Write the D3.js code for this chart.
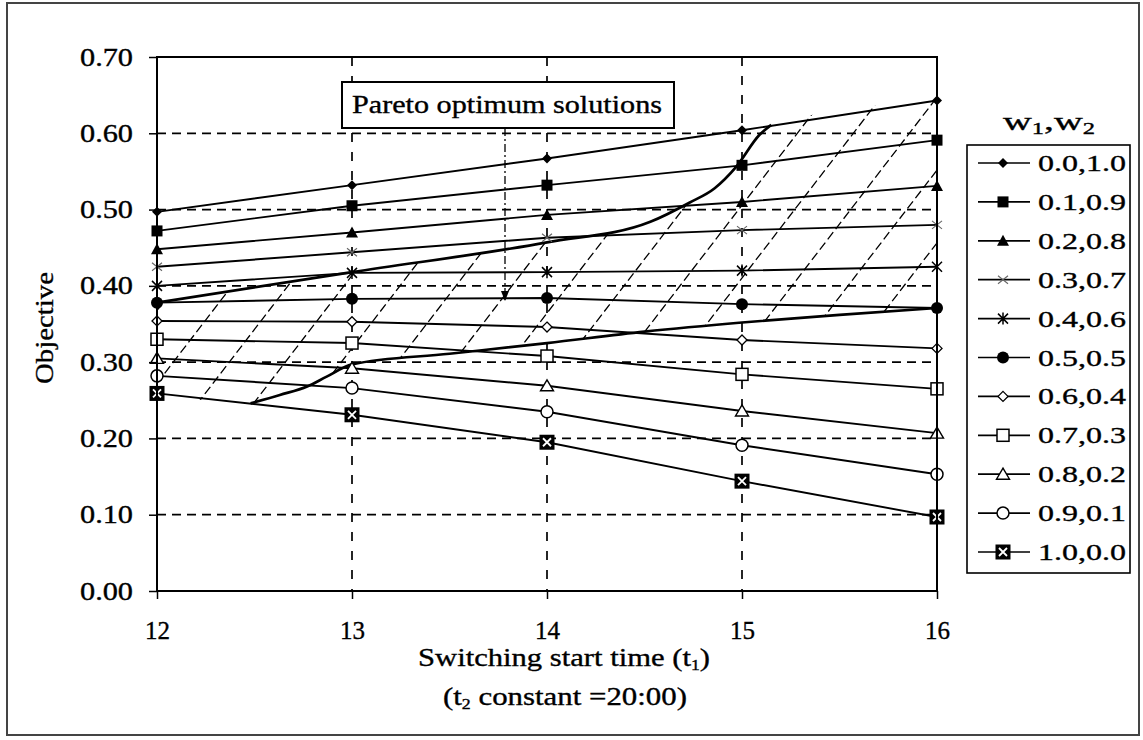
<!DOCTYPE html>
<html>
<head>
<meta charset="utf-8">
<script src="https://cdn.jsdelivr.net/npm/d3@7"></script>
<style>
  body { margin: 0; background: #fff; }
  svg text { font-family: "Liberation Serif", "Times New Roman", serif; fill: #000; stroke: #000; stroke-width: 0.35; }
</style>
</head>
<body>
<svg id="chart" width="1143" height="740"></svg>
<script>
// ---- data ----
const startTimes = [12, 13, 14, 15, 16];
const weightLabels = ["0.0,1.0", "0.1,0.9", "0.2,0.8", "0.3,0.7", "0.4,0.6", "0.5,0.5",
                      "0.6,0.4", "0.7,0.3", "0.8,0.2", "0.9,0.1", "1.0,0.0"];
const objectiveValues = [
  [0.497, 0.532, 0.567, 0.604, 0.643],
  [0.472, 0.505, 0.532, 0.558, 0.591],
  [0.448, 0.470, 0.493, 0.510, 0.531],
  [0.425, 0.444, 0.463, 0.473, 0.480],
  [0.400, 0.417, 0.418, 0.420, 0.425],
  [0.378, 0.383, 0.384, 0.376, 0.371],
  [0.354, 0.353, 0.346, 0.329, 0.318],
  [0.330, 0.325, 0.308, 0.284, 0.265],
  [0.305, 0.292, 0.269, 0.236, 0.207],
  [0.282, 0.266, 0.235, 0.191, 0.153],
  [0.259, 0.231, 0.195, 0.144, 0.097]
];
const markerTypes = ["diamondFill", "squareFill", "triFill", "dash", "star", "circleFill",
                     "diamondOpen", "squareOpen", "triOpen", "circleOpen", "squareX"];
// Pareto region boundaries [t1, objective]
const paretoUpper = [[12, 0.378], [13, 0.418], [14, 0.457], [14.53, 0.484], [14.73, 0.509],
                     [14.86, 0.528], [14.97, 0.556], [15.09, 0.598], [15.15, 0.611], [16, 0.643]];
const paretoLower = [[12, 0.259], [12.48, 0.246], [12.63, 0.257], [12.77, 0.268], [12.87, 0.281],
                     [13.0, 0.297], [13.5, 0.311], [14.0, 0.325], [14.5, 0.340], [15.0, 0.352],
                     [15.5, 0.362], [16, 0.371]];
const yTicks = [0, 0.1, 0.2, 0.3, 0.4, 0.5, 0.6, 0.7];

const svg = d3.select("#chart");
const x = d3.scaleLinear().domain([12, 16]).range([157, 937]);
const y = d3.scaleLinear().domain([0, 0.7]).range([591, 57]);

// outer frame
svg.append("rect").attr("x", 7).attr("y", 3).attr("width", 1132).attr("height", 732)
  .attr("fill", "#fff").attr("stroke", "#444").attr("stroke-width", 2);

// gridlines
svg.append("g").selectAll("line").data(yTicks.slice(1, -1)).join("line")
  .attr("x1", x(12)).attr("x2", x(16)).attr("y1", d => y(d)).attr("y2", d => y(d))
  .attr("stroke", "#000").attr("stroke-width", 1.7).attr("stroke-dasharray", "9,6");
svg.append("g").selectAll("line").data(startTimes.slice(1, -1)).join("line")
  .attr("x1", d => x(d)).attr("x2", d => x(d)).attr("y1", y(0.7)).attr("y2", y(0))
  .attr("stroke", "#000").attr("stroke-width", 1.7).attr("stroke-dasharray", "9,10");

// pareto hatched region
const bLine = d3.line().x(d => x(d[0])).y(d => y(d[1])).curve(d3.curveMonotoneX);
const regionPath = bLine(paretoUpper) + "L" + x(16) + "," + y(0.371) +
  bLine(paretoLower.slice().reverse()).replace(/^M/, "L") + "Z";
svg.append("clipPath").attr("id", "paretoClip").append("path").attr("d", regionPath);
const slope = 1.3, hatchStep = 56;
const hatchLines = d3.range(-6, 20).map(k => 201.7 + k * hatchStep);
svg.append("g").attr("clip-path", "url(#paretoClip)")
  .selectAll("line").data(hatchLines).join("line")
  .attr("x1", d => d - (600 - 398) / slope).attr("y1", 600)
  .attr("x2", d => d + (398 - 50) / slope).attr("y2", 50)
  .attr("stroke", "#000").attr("stroke-width", 1.3).attr("stroke-dasharray", "9,4");

// series lines
const sLine = d3.line().x((d, i) => x(startTimes[i])).y(d => y(d));
svg.append("g").selectAll("path").data(objectiveValues).join("path")
  .attr("d", d => sLine(d)).attr("fill", "none").attr("stroke", "#000").attr("stroke-width", 1.9);

// pareto boundaries
svg.append("path").attr("d", bLine(paretoUpper.slice(0, -1))).attr("fill", "none")
  .attr("stroke", "#000").attr("stroke-width", 2.7);
svg.append("path").attr("d", bLine(paretoLower.slice(1))).attr("fill", "none")
  .attr("stroke", "#000").attr("stroke-width", 2.7);

// markers
function drawMarker(g, type, cx, cy) {
  const s = g.append("g").attr("transform", `translate(${cx},${cy})`);
  switch (type) {
    case "diamondFill":
      s.append("path").attr("d", "M0,-5L5,0L0,5L-5,0Z").attr("fill", "#000"); break;
    case "squareFill":
      s.append("rect").attr("x", -5.5).attr("y", -5.5).attr("width", 11).attr("height", 11).attr("fill", "#000"); break;
    case "triFill":
      s.append("path").attr("d", "M0,-6L6,5L-6,5Z").attr("fill", "#000"); break;
    case "dash":
      s.append("path").attr("d", "M-5,-4L5,4M-5,4L5,-4").attr("stroke", "#666").attr("stroke-width", 1.1); break;
    case "star":
      s.append("path").attr("d", "M-5,-5L5,5M-5,5L5,-5M0,-6L0,6").attr("stroke", "#000").attr("stroke-width", 1.5); break;
    case "circleFill":
      s.append("circle").attr("r", 6).attr("fill", "#000"); break;
    case "diamondOpen":
      s.append("path").attr("d", "M0,-5L5,0L0,5L-5,0Z").attr("fill", "#fff").attr("stroke", "#000").attr("stroke-width", 1.3); break;
    case "squareOpen":
      s.append("rect").attr("x", -6).attr("y", -6).attr("width", 12).attr("height", 12)
        .attr("fill", "#fff").attr("stroke", "#000").attr("stroke-width", 1.5); break;
    case "triOpen":
      s.append("path").attr("d", "M0,-6L6.5,5L-6.5,5Z").attr("fill", "#fff").attr("stroke", "#000").attr("stroke-width", 1.4); break;
    case "circleOpen":
      s.append("circle").attr("r", 6).attr("fill", "#fff").attr("stroke", "#000").attr("stroke-width", 1.5); break;
    case "squareX":
      s.append("rect").attr("x", -7.5).attr("y", -7.5).attr("width", 15).attr("height", 15).attr("fill", "#000");
      s.append("path").attr("d", "M-4,-4L4,4M-4,4L4,-4").attr("stroke", "#fff").attr("stroke-width", 1.8); break;
  }
}
const markerG = svg.append("g");
objectiveValues.forEach((vals, si) => {
  vals.forEach((v, i) => drawMarker(markerG, markerTypes[si], x(startTimes[i]), y(v)));
});

// annotation box + arrow
svg.append("defs").append("marker").attr("id", "arrowHead")
  .attr("viewBox", "0 0 10 10").attr("refX", 9).attr("refY", 5)
  .attr("markerWidth", 8).attr("markerHeight", 8).attr("orient", "auto")
  .append("path").attr("d", "M0,1L10,5L0,9Z").attr("fill", "#000");
svg.append("line").attr("x1", 505).attr("y1", 128).attr("x2", 505).attr("y2", 300)
  .attr("stroke", "#000").attr("stroke-width", 1.3).attr("stroke-dasharray", "8,3,2,3")
  .attr("marker-end", "url(#arrowHead)");
svg.append("rect").attr("x", 342).attr("y", 82).attr("width", 332).attr("height", 46)
  .attr("fill", "#fff").attr("stroke", "#000").attr("stroke-width", 2);
svg.append("text").attr("x", 352).attr("y", 113).attr("font-size", 25)
  .attr("textLength", 310).attr("lengthAdjust", "spacingAndGlyphs").text("Pareto optimum solutions");

// plot frame
svg.append("rect").attr("x", x(12)).attr("y", y(0.7)).attr("width", x(16) - x(12))
  .attr("height", y(0) - y(0.7)).attr("fill", "none").attr("stroke", "#000").attr("stroke-width", 2);

// axes
const yAxis = svg.append("g").attr("transform", `translate(${x(12)},0)`)
  .call(d3.axisLeft(y).tickValues(yTicks).tickFormat(d3.format(".2f")).tickSize(8).tickPadding(16));
const xAxis = svg.append("g").attr("transform", `translate(0,${y(0)})`)
  .call(d3.axisBottom(x).tickValues(startTimes).tickFormat(d3.format("d")).tickSize(8).tickPadding(22));
[yAxis, xAxis].forEach(a => {
  a.select(".domain").remove();
  a.selectAll(".tick line").attr("stroke", "#000").attr("stroke-width", 1.5);
  a.selectAll(".tick text").attr("font-family", "Liberation Serif").attr("font-size", 25)
    .attr("fill", "#000");
});
yAxis.selectAll(".tick text").attr("textLength", 53).attr("lengthAdjust", "spacingAndGlyphs");

// axis titles
svg.append("text").attr("transform", "translate(53,328) rotate(-90)").attr("text-anchor", "middle")
  .attr("font-size", 26).attr("textLength", 112).attr("lengthAdjust", "spacingAndGlyphs").text("Objective");
const xt = svg.append("text").attr("x", 418).attr("y", 666).attr("font-size", 26)
  .attr("textLength", 292).attr("lengthAdjust", "spacingAndGlyphs");
xt.append("tspan").text("Switching start time (t");
xt.append("tspan").attr("font-size", 15).attr("dy", 4).text("1");
xt.append("tspan").attr("dy", -4).text(")");
const xt2 = svg.append("text").attr("x", 443).attr("y", 705).attr("font-size", 26)
  .attr("textLength", 244).attr("lengthAdjust", "spacingAndGlyphs");
xt2.append("tspan").text("(t");
xt2.append("tspan").attr("font-size", 15).attr("dy", 4).text("2");
xt2.append("tspan").attr("dy", -4).text(" constant =20:00)");

// legend
const lt = svg.append("text").attr("x", 1003).attr("y", 130).attr("font-size", 26)
  .attr("textLength", 92).attr("lengthAdjust", "spacingAndGlyphs");
lt.append("tspan").text("w");
lt.append("tspan").attr("font-size", 16).attr("dy", 4).text("1");
lt.append("tspan").attr("dy", -4).text(",w");
lt.append("tspan").attr("font-size", 16).attr("dy", 4).text("2");
svg.append("rect").attr("x", 967).attr("y", 145).attr("width", 163).attr("height", 428)
  .attr("fill", "#fff").attr("stroke", "#000").attr("stroke-width", 1.6);
const legY = d3.scaleLinear().domain([0, weightLabels.length - 1]).range([163, 552]);
const legG = svg.append("g");
weightLabels.forEach((lab, i) => {
  const yy = legY(i);
  legG.append("line").attr("x1", 978).attr("x2", 1030).attr("y1", yy).attr("y2", yy)
    .attr("stroke", "#000").attr("stroke-width", 1.7);
  drawMarker(legG, markerTypes[i], 1003, yy);
  legG.append("text").attr("x", 1038).attr("y", yy + 8).attr("font-size", 24)
    .attr("textLength", 88).attr("lengthAdjust", "spacingAndGlyphs").text(lab);
});
</script>
</body>
</html>
